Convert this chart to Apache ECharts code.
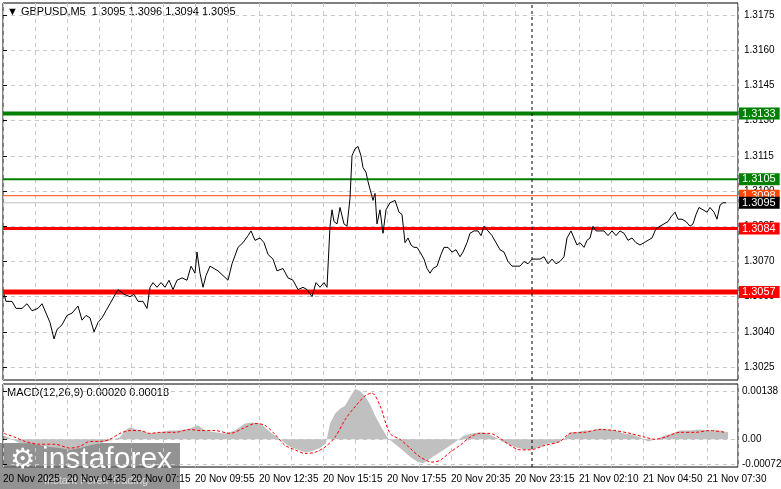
<!DOCTYPE html>
<html><head><meta charset="utf-8">
<script src="https://cdn.jsdelivr.net/npm/echarts@6/dist/echarts.min.js"></script>
<style>html,body{margin:0;padding:0;background:#fff}#c{width:781px;height:489px}</style>
</head><body><div id="c"></div>
<script>
const closeSeries = [[0.5,1.3056],[1.5,1.3053],[4.5,1.3053],[6.5,1.3050],[9.5,1.3050],[12,1.3052],[14.5,1.3049],[17.5,1.3050],[19.5,1.3052],[21.5,1.3048],[23.5,1.3044],[25.5,1.3037],[27,1.3041],[29.5,1.3043],[32,1.3047],[34.5,1.3048],[37.5,1.3051],[39.5,1.3045],[41.5,1.3047],[43.5,1.3046],[45.5,1.3040],[47.5,1.3044],[49.5,1.3046],[51.5,1.3049],[53.5,1.3052],[55.5,1.3055],[57.5,1.3058],[60.5,1.3056],[63.5,1.3055],[65.5,1.3056],[67.5,1.3053],[70,1.3053],[72,1.3050],[73.5,1.3059],[75,1.3061],[77,1.3059],[79,1.3061],[81,1.3059],[83,1.3062],[85,1.3058],[87,1.3062],[89.5,1.3063],[92,1.3062],[94,1.3068],[96,1.3065],[97,1.3074],[98.5,1.3065],[100,1.3059],[101.5,1.3064],[103.5,1.3068],[105.5,1.3067],[107.5,1.3066],[110,1.3064],[112.5,1.3062],[114.5,1.3069],[117.5,1.3076],[120,1.3078],[122.5,1.3081],[124,1.3083],[126,1.3079],[128.5,1.3080],[130.5,1.3078],[132.5,1.3073],[135,1.3071],[137,1.3066],[140,1.3067],[142.5,1.3063],[145,1.3062],[147.5,1.3058],[150,1.3059],[152,1.3058],[154.5,1.3055],[156.5,1.3061],[158.5,1.3059],[160.5,1.3061],[162,1.3059],[163.5,1.3085],[164.5,1.3092],[165.5,1.3087],[167,1.3086],[168.5,1.3093],[169.5,1.3093],[170.5,1.3086],[172,1.3085],[173.5,1.3097],[174.5,1.3115],[176,1.3118],[177.5,1.3119],[179,1.3115],[180,1.3110],[181.5,1.3108],[182.5,1.3104],[183.5,1.3104],[185,1.3096],[186,1.3099],[187,1.3086],[188.5,1.3092],[190,1.3082],[191.5,1.3092],[193.5,1.3095],[196,1.3096],[198,1.3091],[199.5,1.3090],[201,1.3078],[202.5,1.3080],[204,1.3077],[205.5,1.3076],[207,1.3076],[208.5,1.3074],[210.5,1.3071],[212,1.3067],[213.5,1.3065],[215,1.3067],[217,1.3068],[219,1.3073],[220.5,1.3076],[222.5,1.3076],[224.5,1.3074],[226.5,1.3075],[228.5,1.3072],[230,1.3074],[232,1.3078],[233.5,1.3082],[235.5,1.3083],[237.5,1.3083],[239,1.3081],[240.5,1.3085],[242.5,1.3083],[244.5,1.3081],[246.5,1.3078],[248.5,1.3075],[250.5,1.3074],[252.5,1.3070],[254.5,1.3068],[256.5,1.3068],[258.5,1.3068],[260.5,1.3070],[262.5,1.3069],[264.5,1.3071],[266.5,1.3071],[268.5,1.3071],[270.5,1.3072],[272.5,1.3069],[274.5,1.3071],[276.5,1.3069],[278.5,1.3070],[280.5,1.3072],[282,1.3080],[284,1.3083],[285.5,1.3080],[287,1.3077],[288.5,1.3078],[290.5,1.3076],[292,1.3079],[293.5,1.3080],[295,1.3085],[296.5,1.3083],[298.5,1.3083],[300.5,1.3083],[302.5,1.3081],[304.5,1.3083],[306.5,1.3081],[308.5,1.3083],[310.5,1.3082],[312.5,1.3079],[314.5,1.3080],[316.5,1.3078],[318.5,1.3077],[320.5,1.3078],[322.5,1.3079],[324.5,1.3080],[326.5,1.3084],[328.5,1.3085],[330.5,1.3086],[332.5,1.3087],[334,1.3089],[336,1.3091],[337.5,1.3088],[339.5,1.3088],[341.5,1.3087],[343.5,1.3085],[345,1.3086],[346.5,1.3090],[348,1.3093],[350,1.3092],[352,1.3091],[353.5,1.3093],[355.5,1.3091],[357,1.3088],[358.5,1.3094],[360,1.3095],[361.5,1.3095]];
const macdHist = [[0.5,0.00011],[3.5,0.00003],[8.5,-0.00011],[13.5,-0.00011],[18.5,-0.00017],[23.5,-0.00022],[28.5,-0.00025],[33.5,-0.0003],[38.5,-0.00025],[43.5,-0.00017],[48.5,-0.00011],[53.5,-0.00003],[58.5,0.00006],[61,0.00025],[63.5,0.00034],[68.5,0.00025],[73.5,0.00017],[78.5,0.0002],[83.5,0.00025],[88.5,0.00025],[93.5,0.00031],[97.5,0.0004],[101,0.00025],[106,0.0002],[111,0.00017],[116,0.00025],[121,0.00045],[124.5,0.00048],[128.5,0.00045],[131,0.00034],[134.5,0.00017],[138.5,0],[143.5,-0.00022],[147.5,-0.0003],[151,-0.00037],[154.5,-0.00034],[158.5,-0.00025],[161.5,-0.00011],[163.5,0.00045],[166,0.00073],[168.5,0.00087],[171,0.00096],[173.5,0.0012],[176,0.00144],[178.5,0.00138],[181,0.00124],[183.5,0.001],[186.5,0.00062],[189.5,0.00031],[192.5,0.00003],[195.5,-0.00011],[198.5,-0.00025],[201.5,-0.0004],[204.5,-0.00054],[207.5,-0.00065],[210,-0.00068],[212.5,-0.0006],[215,-0.0005],[218.5,-0.00037],[222.5,-0.00022],[226.5,-0.00006],[230.5,0.00011],[234.5,0.00017],[238.5,0.0002],[242.5,0.00017],[246,0.00006],[249.5,-0.00006],[253.5,-0.00017],[257.5,-0.00025],[261,-0.0003],[264.5,-0.00028],[268.5,-0.00022],[272.5,-0.00011],[276.5,-0.00011],[280.5,0],[283.5,0.0002],[286.5,0.0002],[290.5,0.00025],[294.5,0.00025],[298.5,0.00031],[302.5,0.00028],[306.5,0.00025],[310.5,0.00017],[314.5,0.00014],[318.5,0.00006],[322.5,-0.00006],[326.5,0],[330.5,0.0001],[334.5,0.00017],[338.5,0.00025],[343.5,0.00025],[348.5,0.00028],[353.5,0.00025],[358.5,0.00025],[362.5,0.0002]];
const macdSignal = [[0.5,0.00017],[6,0.00006],[11,-0.00006],[18.5,-0.00014],[26,-0.00014],[33.5,-0.00025],[38.5,-0.0002],[43.5,-0.00006],[48.5,-0.00006],[53.5,0],[58.5,0.00017],[63.5,0.00025],[68.5,0.00025],[73.5,0.00017],[78.5,0.0002],[86,0.0002],[93.5,0.00028],[98.5,0.00025],[106,0.00025],[113.5,0.00017],[121,0.00034],[126,0.00045],[131,0.0004],[136,0.00014],[141,-0.00017],[146,-0.0003],[151,-0.0004],[156,-0.00037],[161,-0.00022],[166,0.00006],[171,0.00056],[176,0.00093],[181,0.00124],[184.5,0.00132],[188.5,0.00096],[193.5,0.00017],[198.5,0],[203.5,-0.00025],[208.5,-0.0005],[214.5,-0.00065],[218.5,-0.0006],[223.5,-0.00037],[228.5,-0.00017],[233.5,0.00006],[238.5,0.00017],[243.5,0.00017],[248.5,0.00003],[253.5,-0.00017],[258.5,-0.0003],[263.5,-0.0003],[271,-0.00017],[278.5,-0.00006],[283.5,0.00017],[291,0.0002],[298.5,0.00028],[306,0.00025],[313.5,0.00017],[321,0.00006],[326,0],[331,0.00006],[338.5,0.0002],[346,0.0002],[353.5,0.00025],[361,0.0002]];
const timeLabels = ["20 Nov 2025","20 Nov 04:35","20 Nov 07:15","20 Nov 09:55","20 Nov 12:35","20 Nov 15:15","20 Nov 17:55","20 Nov 20:35","20 Nov 23:15","21 Nov 02:10","21 Nov 04:50","21 Nov 07:30"];
const priceTicks = [1.3025,1.3040,1.3055,1.3070,1.3085,1.3100,1.3115,1.3130,1.3145,1.3160,1.3175];
const macdTicks = [-0.00072,0,0.00138];
const levelValues = [1.3133,1.3105,1.3098,1.3095,1.3084,1.3057];
const levelColors = ['#008000','#008000','#FF4500','#C0C0C0','#FF0000','#FF0000'];
const levelWidths = [4,2,1,1,3,5];
const levelLabelBg = ['#008000','#008000','#FF4500','#000000','#FF0000','#FF0000'];
const cursorBar = 264.5;
const X_MAX = 367.5;
const FONT = 'Liberation Sans';
const chart = echarts.init(document.getElementById('c'));
const xCommon = {type:'value',min:0,max:X_MAX,interval:16,
  axisLine:{show:false},axisTick:{show:false},
  splitLine:{show:true,lineStyle:{color:'#c8c8c8',type:[4,4]}}};
const levelSeries = levelValues.map((v,i)=>({
  type:'line',xAxisIndex:0,yAxisIndex:0,data:[[0,v],[X_MAX,v]],showSymbol:false,silent:true,
  lineStyle:{color:levelColors[i],width:levelWidths[i]},z:(i===3?4:3),
  endLabel:{show:true,formatter:v.toFixed(4),color:'#fff',fontSize:11,fontFamily:FONT,distance:1,
    backgroundColor:levelLabelBg[i],padding:[1,4,0,3]}
}));
chart.setOption({
  animation:false,
  textStyle:{fontFamily:FONT},
  grid:[{left:3,right:43,top:3,height:377,show:true,borderColor:'#000',borderWidth:1,outerBoundsMode:'none',containLabel:false},
        {left:3,right:43,top:384,height:83,show:true,borderColor:'#000',borderWidth:1,outerBoundsMode:'none',containLabel:false}],
  xAxis:[Object.assign({gridIndex:0,axisLabel:{show:false}},xCommon),
    Object.assign({gridIndex:1,axisLabel:{show:true,color:'#000',fontSize:10,fontFamily:FONT,align:'left',margin:7,hideOverlap:false,
      formatter:v=>{const i=Math.round(v/32);return (Math.abs(v-32*i)<0.01&&i<timeLabels.length)?timeLabels[i]:'';}}},xCommon)],
  yAxis:[{gridIndex:0,type:'value',position:'right',min:1.30195,max:1.31801,
      axisLine:{show:false},
      axisTick:{show:true,customValues:priceTicks,length:4,lineStyle:{color:'#000'}},
      axisLabel:{customValues:priceTicks,color:'#000',fontSize:10,fontFamily:FONT,margin:6,formatter:v=>v.toFixed(4)},
      splitLine:{show:true,lineStyle:{color:'#c8c8c8',type:[4,4]}}},
    {gridIndex:1,type:'value',position:'right',min:-0.00079,max:0.00158,
      axisLine:{show:false},
      axisTick:{show:true,customValues:macdTicks,length:4,lineStyle:{color:'#000'}},
      axisLabel:{customValues:macdTicks,color:'#000',fontSize:10,fontFamily:FONT,margin:4,formatter:v=>v===0?'0.00':v.toFixed(5)},
      splitLine:{show:true,lineStyle:{color:'#c8c8c8',type:[4,4]}}}],
  series:levelSeries.concat([
    {type:'line',xAxisIndex:0,yAxisIndex:0,data:closeSeries,showSymbol:false,lineStyle:{color:'#000',width:1},z:5},
    {type:'line',xAxisIndex:0,yAxisIndex:0,data:[[cursorBar,1.30195],[cursorBar,1.31801]],showSymbol:false,silent:true,
     lineStyle:{color:'#000',type:[3,3],width:1},z:6},
    {type:'line',xAxisIndex:1,yAxisIndex:1,data:macdHist,showSymbol:false,lineStyle:{width:0},
     areaStyle:{color:'#c0c0c0',opacity:1,origin:0},z:2},
    {type:'line',xAxisIndex:1,yAxisIndex:1,data:[[cursorBar,-0.00079],[cursorBar,0.00158]],showSymbol:false,silent:true,
     lineStyle:{color:'#000',type:[3,3],width:1},z:6},
    {type:'line',xAxisIndex:1,yAxisIndex:1,data:macdSignal,showSymbol:false,smooth:0.3,lineStyle:{color:'#ff0000',width:1,type:[3,2]},z:3}
  ]),
  graphic:[
    {type:'text',left:7,top:6,style:{text:'▼ GBPUSD,M5  1.3095 1.3096 1.3094 1.3095',fill:'#000',font:'11px '+FONT}},
    {type:'text',left:7,top:387,style:{text:'MACD(12,26,9) 0.00020 0.00018',fill:'#000',font:'11px '+FONT}},
    {type:'group',left:0,top:443,children:[
      {type:'rect',shape:{x:0,y:0,width:180,height:46},style:{fill:'rgba(110,110,110,0.75)'}},
      {type:'text',x:10,y:4,style:{text:'⚙',fill:'#fff',font:'28px DejaVu Sans'}},
      {type:'text',x:42,y:2,style:{text:'instaforex',fill:'#fff',font:'30px '+FONT}},
      {type:'text',x:44,y:32,style:{text:'Instant Forex Trading',fill:'#ddd',font:'11px '+FONT}}
    ]}
  ]
});
</script></body></html>
